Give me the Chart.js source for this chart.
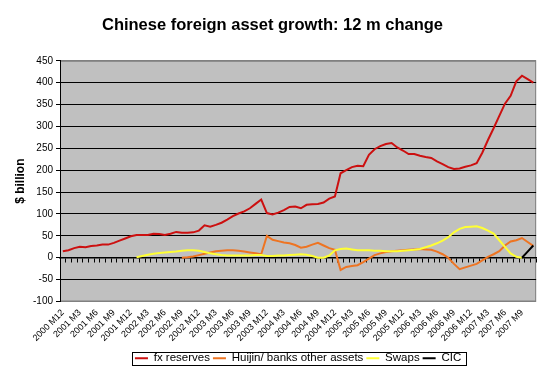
<!DOCTYPE html>
<html>
<head>
<meta charset="utf-8">
<title>Chinese foreign asset growth</title>
<script src="https://cdn.jsdelivr.net/npm/chart.js@4.4.0/dist/chart.umd.min.js"></script>
<style>
  html, body { margin: 0; padding: 0; background: #fff; }
  #wrap { width: 547px; height: 374px; }
</style>
</head>
<body>
<div id="wrap"><canvas id="chart"></canvas></div>
<script>
// monthly categories, 2000 M12 .. 2007 M11
const months = [];
for (let y = 2000; y <= 2007; y++) {
  for (let m = 1; m <= 12; m++) {
    if ((y === 2000 && m < 12) || (y === 2007 && m > 11)) continue;
    months.push(y + ' M' + m);
  }
}

const gap = n => Array(n).fill(null);

// $ billion, 12 month change
const fxReserves = [15, 17, 22, 25, 24, 27, 28, 30, 30, 34,
  39, 44, 49, 52, 52, 52, 55, 54, 52, 55,
  59, 57, 57, 58, 62, 74, 71, 75, 80, 87,
  95, 101, 106, 113, 123, 133, 102, 99, 103, 109,
  116, 117, 113, 121, 122, 123, 126, 135, 140, 193,
  200, 207, 210, 209, 235, 248, 255, 260, 262, 252,
  245, 237, 237, 233, 230, 228, 220, 214, 207, 203,
  204, 208, 211, 216, 240, 269, 296, 324, 352, 370,
  403, 416, 408, 400];

const huijinBanks = gap(21).concat([0, 1, 3, 6, 9, 12, 15, 16, 17, 17,
  16, 14, 12, 10, 8, 50, 41, 38, 35, 33,
  29, 23, 25, 30, 34, 28, 22, 18, -28, -21,
  -19, -17, -10, -2, 6, 10, 13, 15, 16, 17,
  18, 19, 20, 19, 18, 14, 8, 0, -14, -26,
  -22, -18, -14, -6, 2, 8, 15, 28, 37, 40,
  45, 36, 27]);

const swaps = gap(13).concat([1, 4, 7, 9, 11, 12, 13, 14, 16, 17,
  17, 16, 13, 10, 8, 6, 5, 5, 5, 5,
  5, 6, 6, 4, 4, 5, 5, 6, 7, 8,
  7, 4, 0, 0, 5, 17, 20, 21, 19, 17,
  17, 17, 16, 16, 15, 15, 15, 16, 17, 18,
  20, 24, 28, 33, 39, 47, 58, 66, 70, 71,
  72, 68, 62, 55, 40, 25, 10, 2, 0], gap(2));

const cic = gap(81).concat([0, 14, 28]);

const FONT = 'Liberation Sans, Arial, sans-serif';

// grey plot area + box round the legend, as in the Excel original
const plotFrame = {
  id: 'plotFrame',
  beforeDraw(chart) {
    const { ctx, chartArea: a } = chart;
    ctx.save();
    ctx.fillStyle = '#c0c0c0';
    ctx.fillRect(a.left, a.top, a.width, a.height);
    ctx.strokeStyle = '#808080';
    ctx.lineWidth = 1;
    ctx.strokeRect(a.left + 0.5, a.top + 0.5, a.width - 1, a.height - 1);
    ctx.restore();
  },
  afterDraw(chart) {
    const boxes = chart.legend && chart.legend.legendHitBoxes;
    if (!boxes || !boxes.length) return;
    const first = boxes[0], last = boxes[boxes.length - 1];
    const l = Math.round(first.left - 3) + 0.5;
    const r = Math.round(last.left + last.width + 5) + 0.5;
    const t = Math.round(first.top - 1) + 0.5;
    const b = Math.round(first.top + first.height + 1) + 0.5;
    const ctx = chart.ctx;
    ctx.save();
    ctx.strokeStyle = '#000';
    ctx.lineWidth = 1;
    ctx.strokeRect(l, t, r - l, b - t);
    ctx.restore();
  }
};

const line = (label, data, color, order) => ({
  label, data, order,
  borderColor: color,
  backgroundColor: color,
  borderWidth: 2,
  pointRadius: 0,
  tension: 0,
  fill: false
});

new Chart(document.getElementById('chart'), {
  type: 'line',
  data: {
    labels: months,
    datasets: [
      line('fx reserves', fxReserves, '#cc1010', 4),
      line('Huijin/ banks other assets', huijinBanks, '#ee7422', 3),
      line('Swaps', swaps, '#ffff33', 2),
      line('CIC', cic, '#000000', 1)
    ]
  },
  options: {
    responsive: true,
    maintainAspectRatio: false,
    animation: false,
    layout: { padding: { left: 8, right: 10, top: 8, bottom: 0 } },
    plugins: {
      title: {
        display: true,
        text: 'Chinese foreign asset growth: 12 m change',
        color: '#000',
        font: { family: FONT, size: 16.5, weight: 'bold' },
        padding: { top: 8, bottom: 25 }
      },
      legend: {
        position: 'bottom',
        fullSize: false,
        maxHeight: 25,
        labels: {
          color: '#000',
          font: { family: FONT, size: 11.5 },
          usePointStyle: true,
          pointStyle: 'line',
          pointStyleWidth: 13,
          padding: 3,
          sort: (a, b) => a.datasetIndex - b.datasetIndex
        }
      },
      tooltip: { enabled: false }
    },
    scales: {
      x: {
        type: 'category',
        position: { y: 0 },
        offset: true,
        grid: { drawOnChartArea: false, drawTicks: true, tickLength: 4, color: '#000', offset: true },
        border: { color: '#000', width: 1.5 },
        ticks: { display: false }
      },
      x2: {
        type: 'category',
        position: 'bottom',
        offset: true,
        grid: { display: false, drawTicks: false },
        border: { display: false },
        ticks: {
          autoSkip: false,
          minRotation: 45,
          maxRotation: 45,
          padding: 6,
          color: '#000',
          font: { family: FONT, size: 9 },
          callback: function (val, i) { return i % 3 === 0 ? this.getLabelForValue(val) : ''; }
        },
        afterFit: s => { s.height = 48; }
      },
      y: {
        min: -100,
        max: 450,
        ticks: { stepSize: 50, color: '#000', font: { family: FONT, size: 10 }, padding: 3 },
        grid: {
          color: c => (c.tick && (c.tick.value === 450 || c.tick.value === -100)) ? '#808080' : '#000',
          tickColor: '#000',
          tickLength: 4
        },
        border: { color: '#000' },
        title: {
          display: true,
          text: '$ billion',
          color: '#000',
          font: { family: FONT, size: 12, weight: 'bold' },
          padding: { top: 5, bottom: 0 }
        },
        afterFit: s => { s.width = 52; }
      }
    }
  },
  plugins: [plotFrame]
});
</script>
</body>
</html>
